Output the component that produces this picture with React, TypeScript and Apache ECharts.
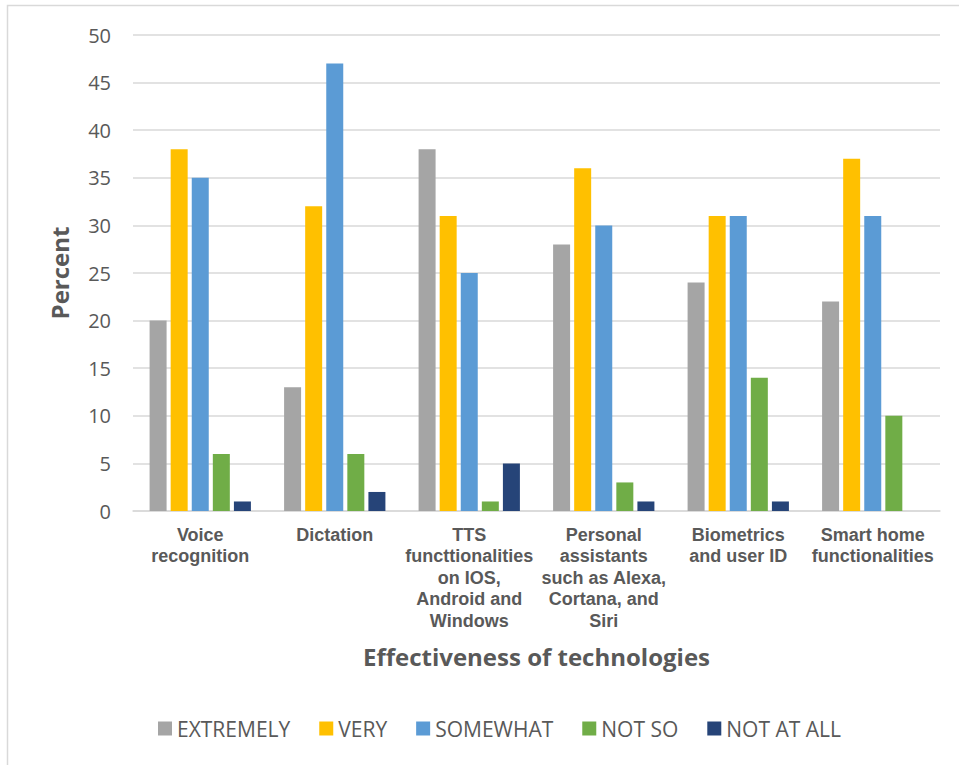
import React, { useEffect, useRef } from "react";
import * as echarts from "echarts";

const categories = [
  "Voice\nrecognition",
  "Dictation",
  "TTS\nfuncttionalities\non IOS,\nAndroid and\nWindows",
  "Personal\nassistants\nsuch as Alexa,\nCortana, and\nSiri",
  "Biometrics\nand user ID",
  "Smart home\nfunctionalities",
];
const seriesNames = ["EXTREMELY", "VERY", "SOMEWHAT", "NOT SO", "NOT AT ALL"];
const extremely = [20, 13, 38, 28, 24, 22];
const very = [38, 32, 31, 36, 31, 37];
const somewhat = [35, 47, 25, 30, 31, 31];
const notSo = [6, 6, 1, 3, 14, 10];
const notAtAll = [1, 2, 5, 1, 1, 0];
const colors = ["#A5A5A5", "#FFC000", "#5B9BD5", "#70AD47", "#264478"];
const yTicks = { min: 0, max: 50, interval: 5 };

export default function App() {
  const ref = useRef<HTMLDivElement>(null);
  useEffect(() => {
    if (!ref.current) return;
    const chart = echarts.init(ref.current, null, { renderer: "svg" });
    const data = [extremely, very, somewhat, notSo, notAtAll];
    chart.setOption({
      animation: false,
      textStyle: { fontFamily: "Open Sans" },
      graphic: [
        {
          type: "rect",
          shape: { x: 7.5, y: 5.5, width: 1000, height: 1000 },
          style: { fill: "none", stroke: "#d9d9d9", lineWidth: 1.5 },
          silent: true,
        },
      ],
      grid: { left: 133, right: 19, top: 35, bottom: 254, containLabel: false },
      legend: {
        left: 153,
        top: 713,
        itemWidth: 14,
        itemHeight: 14,
        itemGap: 29,
        icon: "rect",
        textStyle: { fontSize: 21, color: "#595959", fontFamily: "Open Sans" },
        data: seriesNames,
      },
      xAxis: {
        type: "category",
        data: categories,
        name: "Effectiveness of technologies",
        nameLocation: "middle",
        nameGap: 133,
        nameTextStyle: { fontSize: 24, fontWeight: "bold", color: "#595959", fontFamily: "Open Sans" },
        axisLine: { lineStyle: { color: "#d9d9d9", width: 1.5 } },
        axisTick: { show: false },
        axisLabel: {
          interval: 0,
          margin: 13,
          fontSize: 18,
          lineHeight: 21.5,
          fontWeight: "bold",
          color: "#595959",
          fontFamily: "Liberation Sans",
        },
      },
      yAxis: {
        type: "value",
        min: yTicks.min,
        max: yTicks.max,
        interval: yTicks.interval,
        name: "Percent",
        nameLocation: "middle",
        nameGap: 62,
        nameRotate: 90,
        nameTextStyle: { fontSize: 24, fontWeight: "bold", color: "#595959", fontFamily: "Open Sans" },
        axisLabel: { fontSize: 20, color: "#595959", margin: 22, fontFamily: "Open Sans" },
        splitLine: { lineStyle: { color: "#d9d9d9", width: 1.5 } },
        axisLine: { show: false },
        axisTick: { show: false },
      },
      series: seriesNames.map((name, i) => ({
        name,
        type: "bar",
        data: data[i],
        barWidth: 17,
        barGap: "24%",
        barCategoryGap: "25%",
        itemStyle: { color: colors[i] },
      })),
    });
    return () => chart.dispose();
  }, []);
  return (
    <div
      ref={ref}
      style={{ position: "fixed", left: 0, top: 0, width: 959, height: 765, background: "#fff" }}
    />
  );
}
